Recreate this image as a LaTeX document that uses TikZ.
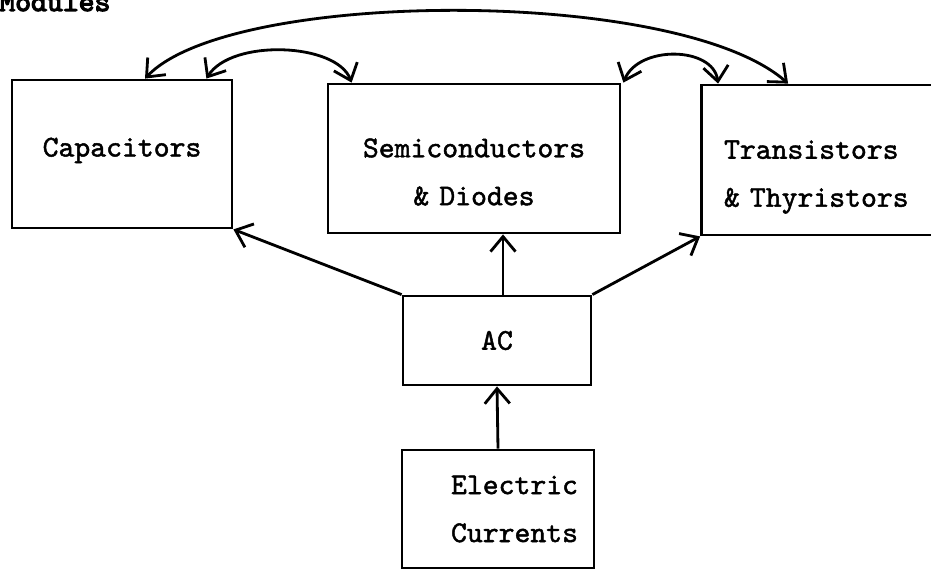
\documentclass[tikz,border=0pt]{standalone}
\usepackage{fontspec}
\newfontfamily\typewriter{lmmono10-regular.otf}[RawFeature={embolden=1.5}]
\newfontfamily\titlefont{lmmono10-regular.otf}[RawFeature={embolden=4}]
\usepackage{tikz}
\usetikzlibrary{arrows.meta}

\begin{document}
\begin{tikzpicture}[
    >={Straight Barb[length=0.3cm,width=0.5cm]},
    box/.style={draw=black, line width=1.6pt, align=center, font=\typewriter\fontsize{17.2}{27.3}\selectfont},
    twoline/.style={text height=1.01cm, text depth=1.06cm},
    conn/.style={->, draw=black, line width=1.6pt},
    link/.style={<->, draw=black, line width=1.6pt},
    title/.style={font=\titlefont\fontsize{17.2}{18}\selectfont, anchor=base west, inner sep=0pt}
]
\useasboundingbox (0,0) rectangle (18.62,11.42);
\fill[white] (0,0) rectangle (18.62,11.42);

% =========================================================================
% TITULO (cortado na borda superior)
% =========================================================================
\node[title] (modules) at (-0.02, 11.20) {Modules};

% =========================================================================
% LINHA SUPERIOR: TRES MODULOS
% =========================================================================
\node[box, minimum width=4.4cm, minimum height=2.96cm, text height=0.48cm, text depth=0.38cm] (cap) at (2.44, 8.34) {Capacitors};
\node[box, twoline, minimum width=5.84cm, minimum height=2.98cm, text width=5.0cm] (semi) at (9.48, 8.25) {Semiconductors\\\& Diodes};
\node[box, twoline, minimum width=4.9cm, minimum height=3.0cm, text width=4.0cm, align=left] (trans) at (16.48, 8.22) {Transistors\\\& Thyristors};

% =========================================================================
% CENTRO E BASE
% =========================================================================
\node[box, minimum width=3.76cm, minimum height=1.78cm] (ac) at (9.94, 4.61) {AC};
\node[box, minimum width=3.84cm, minimum height=2.36cm, text width=3.2cm, align=right] (elec) at (9.96, 1.24) {Electric\\Currents};

\draw[conn] (elec.north) -- (ac.south);
\draw[conn] (ac.north west) -- (cap.south east);
\draw[conn] ([xshift=0.12cm]ac.north) -- ([xshift=0.12cm]ac.north |- semi.south);
\draw[conn] (ac.north east) -- (trans.south west);

% =========================================================================
% LIGACOES CURVAS ENTRE OS MODULOS
% =========================================================================
\draw[link] ([xshift=0.46cm]cap.north) .. controls +(1.7,1.8) and +(-2.2,1.94) .. ([xshift=1.76cm]trans.north west);
\draw[link] ([xshift=-0.54cm]cap.north east) .. controls +(0.5,0.8) and +(-0.3,0.8) .. ([xshift=0.5cm]semi.north west);
\draw[link] ([xshift=0.04cm]semi.north east) .. controls +(0.3,0.75) and +(-0.1,0.75) .. ([xshift=0.36cm]trans.north west);

\end{tikzpicture}
\end{document}
